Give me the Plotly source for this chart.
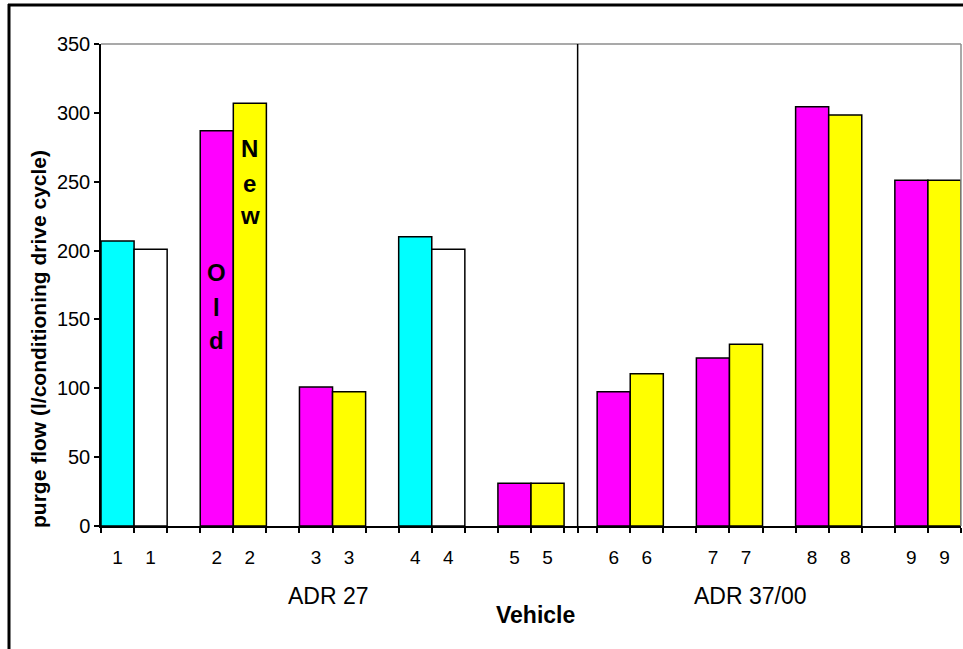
import plotly.graph_objects as go

# ---- data ----
vehicles = [1, 2, 3, 4, 5, 6, 7, 8, 9]
old_values = [207, 287, 101, 210, 31, 97.5, 122, 304.5, 251]
new_values = [201, 307, 97.5, 201, 31, 110.5, 132, 298.5, 251]
old_colors = ["#00FFFF", "#FF00FF", "#FF00FF", "#00FFFF", "#FF00FF",
              "#FF00FF", "#FF00FF", "#FF00FF", "#FF00FF"]
new_colors = ["#FFFFFF", "#FFFF00", "#FFFF00", "#FFFFFF", "#FFFF00",
              "#FFFF00", "#FFFF00", "#FFFF00", "#FFFF00"]
group_labels = ["ADR 27", "ADR 37/00"]
y_title = "purge flow (l/conditioning drive cycle)"
x_title = "Vehicle"

FONT = "Arial, Liberation Sans, sans-serif"
W, H = 963, 649
L, R, T, B = 101, 2, 44, 123
PW, PH = W - L - R, H - T - B


def px_x(p):
    return (p - L) / PW


def px_y(p):
    return (H - B - p) / PH


third = 1 / 3
xrange = [1 - third, 9 + third]
fig = go.Figure()
fig.add_trace(go.Bar(x=vehicles, y=old_values, name="Old",
                     marker=dict(color=old_colors, line=dict(color="black", width=1.5))))
fig.add_trace(go.Bar(x=vehicles, y=new_values, name="New",
                     marker=dict(color=new_colors, line=dict(color="black", width=1.5))))

# tick labels at bar centers, tick marks at bar edges
centers, labels, edges = [], [], []
for v in vehicles:
    centers += [v - third / 2, v + third / 2]
    labels += [str(v), str(v)]
    edges += [v - third, v, v + third]
divider_x = 5.47
edges.append(divider_x)

# invisible trace to carry the label axis
fig.add_trace(go.Scatter(x=centers, y=[0] * len(centers), xaxis="x2", yaxis="y",
                         mode="markers", marker=dict(opacity=0), hoverinfo="skip",
                         showlegend=False))

fig.update_layout(
    width=W, height=H,
    margin=dict(l=L, r=R, t=T, b=B, pad=0),
    paper_bgcolor="white", plot_bgcolor="white",
    barmode="group", bargap=third, bargroupgap=0,
    showlegend=False,
    font=dict(family=FONT, color="black", size=19),
    xaxis=dict(range=xrange, tickmode="array", tickvals=edges,
               showticklabels=False, ticks="outside", ticklen=5,
               tickcolor="black", tickwidth=1.5,
               showline=True, linecolor="black", linewidth=1.5,
               showgrid=False, zeroline=False),
    xaxis2=dict(range=xrange, overlaying="x", anchor="y", side="bottom",
                tickmode="array", tickvals=centers, ticktext=labels,
                ticks="", ticklabelstandoff=18, tickfont=dict(size=19),
                showline=False, showgrid=False, zeroline=False),
    yaxis=dict(range=[0, 350], dtick=50, ticks="outside", ticklen=5,
               tickcolor="black", tickwidth=1.5, tickfont=dict(size=20),
               showline=True, linecolor="black", linewidth=1.5,
               showgrid=False, zeroline=False),
)

shapes = [
    # grey plot-area border top/right
    dict(type="line", xref="paper", yref="paper", x0=0, x1=1, y0=1, y1=1,
         line=dict(color="#8C8C8C", width=1.5)),
    dict(type="line", xref="paper", yref="paper", x0=1, x1=1, y0=0, y1=1,
         line=dict(color="#8C8C8C", width=1.5)),
    # divider between groups
    dict(type="line", xref="x", yref="paper", x0=divider_x, x1=divider_x, y0=0, y1=1,
         line=dict(color="black", width=1.5)),
    # outer frame (top and left)
    dict(type="line", xref="paper", yref="paper", x0=px_x(8), x1=px_x(W + 5),
         y0=px_y(5), y1=px_y(5), line=dict(color="black", width=3)),
    dict(type="line", xref="paper", yref="paper", x0=px_x(9), x1=px_x(9),
         y0=px_y(4), y1=px_y(H + 5), line=dict(color="black", width=3)),
]
fig.update_layout(shapes=shapes)

ann = []
ann.append(dict(text=group_labels[0], xref="paper", yref="paper", x=px_x(328), y=px_y(596),
                showarrow=False, font=dict(size=23), xanchor="center", yanchor="middle"))
ann.append(dict(text=group_labels[1], xref="paper", yref="paper", x=px_x(750), y=px_y(596),
                showarrow=False, font=dict(size=23), xanchor="center", yanchor="middle"))
ann.append(dict(text="<b>" + x_title + "</b>", xref="paper", yref="paper", x=px_x(535), y=px_y(615),
                showarrow=False, font=dict(size=23), xanchor="center", yanchor="middle"))
ann.append(dict(text="<b>" + y_title + "</b>", xref="paper", yref="paper", x=px_x(38), y=px_y(339),
                showarrow=False, font=dict(size=21), textangle=-90,
                xanchor="center", yanchor="middle"))
# "Old" / "New" vertical labels inside vehicle 2 bars
for ch, py in zip("Old", [272, 307, 340]):
    ann.append(dict(text="<b>" + ch + "</b>", xref="x", yref="paper", x=2 - third / 2, y=px_y(py),
                    showarrow=False, font=dict(size=24), xanchor="center", yanchor="middle"))
for ch, py in zip("New", [148, 183, 216]):
    ann.append(dict(text="<b>" + ch + "</b>", xref="x", yref="paper", x=2 + third / 2, y=px_y(py),
                    showarrow=False, font=dict(size=24), xanchor="center", yanchor="middle"))
fig.update_layout(annotations=ann)

fig.write_html("out.html")
